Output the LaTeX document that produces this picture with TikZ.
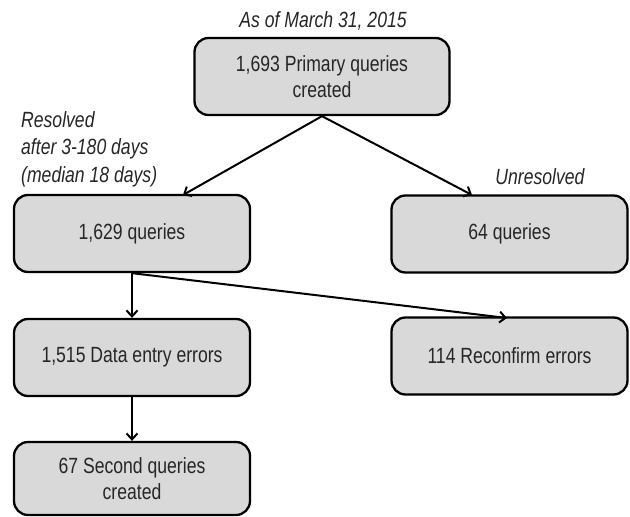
\documentclass[tikz,border=0pt]{standalone}
\usepackage{fontspec}
\usetikzlibrary{arrows.meta}
\newfontfamily\nfont[FakeStretch=0.8]{Liberation Sans}
\definecolor{boxfill}{HTML}{D9D9D9}
\definecolor{txt}{HTML}{262626}
\begin{document}
\begin{tikzpicture}[x=1pt,y=-1pt,
  qbox/.style={draw=black, line width=2.3pt, fill=boxfill, rounded corners=14pt,
    minimum width=236pt, minimum height=77pt, align=center, inner sep=0pt,
    text=txt, font=\nfont\fontsize{22}{25.5}\selectfont},
  lbl/.style={inner sep=0pt, text=txt, font=\nfont\itshape\fontsize{22}{27.5}\selectfont},
  arr/.style={line width=2pt, -{Straight Barb[length=6pt,width=11pt,line width=2pt]}}]
\useasboundingbox (0,0) rectangle (630,517);
\node[qbox, minimum width=255pt] (top) at (322,76.5) {1,693 Primary queries\\created};
\node[qbox] (res) at (132,233.5) {1,629 queries};
\node[qbox] (unres) at (509.5,234) {64 queries};
\node[qbox] (data) at (132,357.5) {1,515 Data entry errors};
\node[qbox] (reconf) at (509.5,356) {114 Reconfirm errors};
\node[qbox, minimum height=73pt] (second) at (132,478.5) {67 Second queries\\created};
\node[lbl, anchor=base] (asof) at (323,27) {As of March 31, 2015};
\node[lbl, anchor=base west, align=left] (resl) at (21,182) {Resolved\\after 3-180 days\\(median 18 days)};
\node[lbl, anchor=base] (unresl) at (540,184) {Unresolved};
\coordinate (t1) at (183,195);
\coordinate (t2) at (472,195);
\coordinate (t3) at (507,318);
\draw[arr] (top.south) -- (t1);
\draw[arr] (top.south) -- (t2);
\draw[arr] (res.south) -- (data.north);
\draw[arr] (res.south) -- (t3);
\draw[arr] (data.south) -- (second.north);
\end{tikzpicture}
\end{document}
